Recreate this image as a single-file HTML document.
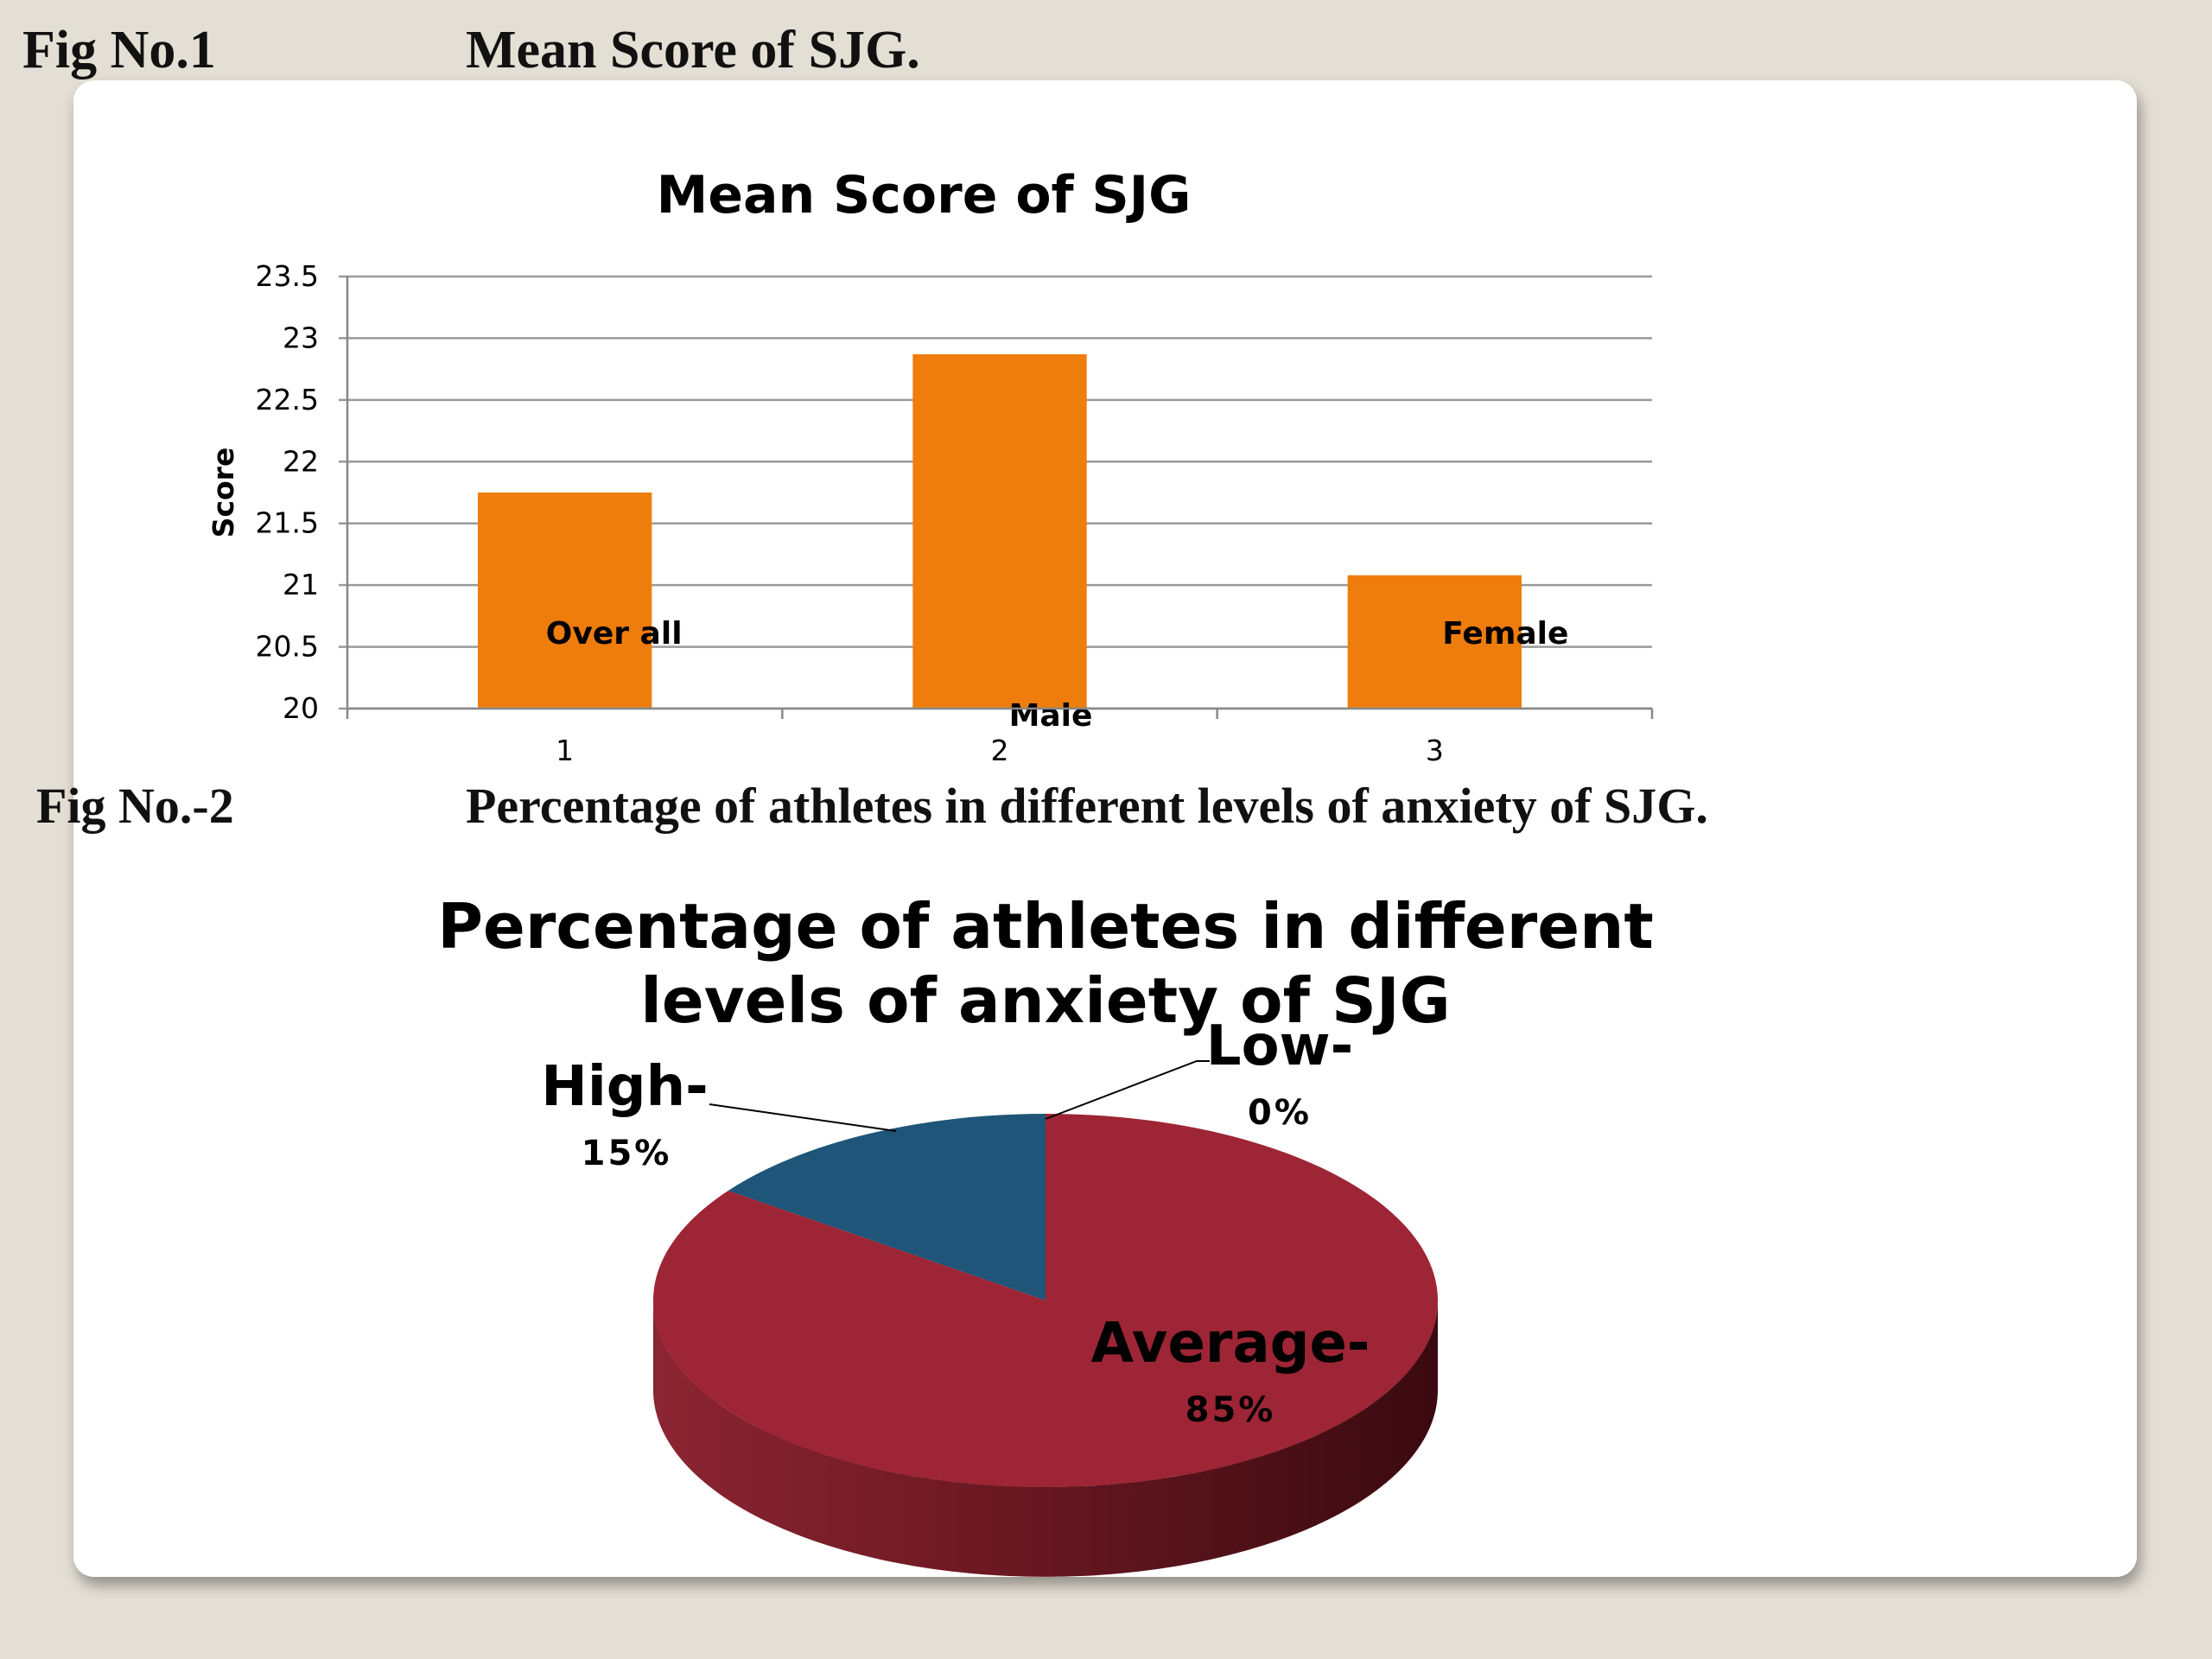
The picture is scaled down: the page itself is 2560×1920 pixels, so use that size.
<!DOCTYPE html>
<html><head><meta charset="utf-8"><style>
html,body{margin:0;padding:0;background:#e3dfd4;}
svg{display:block}
</style></head><body>
<svg id="root" width="2560" height="1920" viewBox="0 0 2560 1920" xmlns="http://www.w3.org/2000/svg">
<defs>
<filter id="sh" x="-5%" y="-5%" width="110%" height="110%"><feDropShadow dx="4" dy="10" stdDeviation="8" flood-color="#000" flood-opacity="0.35"/></filter>
<linearGradient id="side" x1="0" x2="1" y1="0" y2="0">
<stop offset="0" stop-color="#8c2532"/><stop offset="0.45" stop-color="#6a1822"/><stop offset="1" stop-color="#3a0a10"/>
</linearGradient>
</defs>
<rect x="0" y="0" width="2560" height="1920" fill="#e3dfd4"/>
<rect x="85" y="93" width="2388" height="1732" rx="24" fill="#ffffff" filter="url(#sh)"/>
<g font-family="'Liberation Serif',serif" font-weight="bold" fill="#111">
<text x="26" y="78" font-size="62">Fig No.1</text>
<text x="539" y="78" font-size="62">Mean Score of  SJG.</text>
<text x="42" y="952" font-size="58">Fig No.-2</text>
<text x="539" y="952" font-size="58">Percentage of athletes in different levels of anxiety of SJG.</text>
</g>
<g id="bar-chart"></g>
<g id="pie-chart"></g>
</svg>
<script>
const categories=["1","2","3"];
const barLabels=["Over all","Male","Female"];
const values=[21.75,22.87,21.08];
const yTicks=[20,20.5,21,21.5,22,22.5,23,23.5];
const pieLabels=["High-","Low-","Average-"];
const pieValues=[15,0,85];
const piePct=["15%","0%","85%"];

const NS="http://www.w3.org/2000/svg";
function mk(tag,attrs,parent,text){const e=document.createElementNS(NS,tag);for(const k in attrs)e.setAttribute(k,attrs[k]);if(text!==undefined)e.textContent=text;parent.appendChild(e);return e;}

// Bar chart
const bc=document.getElementById('bar-chart');
const X0=402,X1=1912,Y0=820,Y1=320,yMin=20,yMax=23.5;
const ys=v=>Y0-(v-yMin)/(yMax-yMin)*(Y0-Y1);
const bw=(X1-X0)/categories.length;
const xs=i=>X0+bw*(i+0.5);
let t=mk('text',{x:1069,y:246,'font-size':60,'font-weight':'bold','font-family':"'DejaVu Sans',sans-serif",'text-anchor':'middle',fill:'#000'},bc,'Mean Score of SJG');


yTicks.forEach(v=>{
 const l=mk('line',{x1:X0-10,x2:X1,y1:ys(v),y2:ys(v),stroke:'#9a9a9a','stroke-width':2.5},bc);
 
 
 const tx=mk('text',{x:369,y:ys(v)+11,'font-size':33,'font-family':"'DejaVu Sans',sans-serif",'text-anchor':'end',fill:'#000'},bc,String(v));
 
 
});
let ax=mk('line',{x1:X0,x2:X0,y1:Y1,y2:Y0,stroke:'#888','stroke-width':2.5},bc);


for(let i=0;i<=categories.length;i++){
 const tk=mk('line',{x1:X0+bw*i,x2:X0+bw*i,y1:Y0,y2:Y0+12,stroke:'#888','stroke-width':2.5},bc);
 
 
}
const yt=mk('text',{x:270,y:570,'font-size':33,'font-weight':'bold','font-family':"'DejaVu Sans',sans-serif",'text-anchor':'middle',transform:'rotate(-90 270 570)',fill:'#000'},bc,'Score');


const labelDx=[57,59,82],labelY=[745,840,745];
values.forEach((v,i)=>{
 const w=bw*0.4;
 const r=mk('rect',{x:xs(i)-w/2,y:ys(v),width:w,height:Y0-ys(v),fill:'#ee7d0d'},bc);
 
 
 const c=mk('text',{x:xs(i),y:880,'font-size':33,'font-family':"'DejaVu Sans',sans-serif",'text-anchor':'middle',fill:'#000'},bc,categories[i]);
 
 
 const dl=mk('text',{x:xs(i)+labelDx[i],y:labelY[i],'font-size':36,'font-weight':'bold','font-family':"'DejaVu Sans',sans-serif",'text-anchor':'middle',fill:'#000'},bc,barLabels[i]);
 
 
});
const l0=mk('line',{x1:X0,x2:X1,y1:Y0,y2:Y0,stroke:'#888','stroke-width':2.5},bc);



// Pie chart
const pc=document.getElementById('pie-chart');
const cx=1210,cy=1505,rx=454,ry=216,depth=104;
['Percentage of athletes in different','levels of anxiety of SJG'].forEach((s,i)=>{
 const tt=mk('text',{x:1210,y:1097+i*86,'font-size':72,'font-weight':'bold','font-family':"'DejaVu Sans',sans-serif",'text-anchor':'middle',fill:'#000'},pc,s);
 
 
});
const side=mk('path',{d:`M${cx-rx},${cy} A${rx},${ry} 0 0 0 ${cx+rx},${cy} L${cx+rx},${cy+depth} A${rx},${ry} 0 0 1 ${cx-rx},${cy+depth} Z`,fill:'url(#side)'},pc);


const colors=['#1e5578','#4f81bd','#9e2535'];
const total=pieValues.reduce((a,b)=>a+b,0);
const pt=a=>[cx+rx*Math.sin(a),cy-ry*Math.cos(a)];
// High slice goes counterclockwise from top; order: High (ccw), Low, Average (cw)
let start=-pieValues[0]/total*2*Math.PI;
pieValues.forEach((v,i)=>{
 if(v<=0)return;
 const a0=start,a1=start+v/total*2*Math.PI;start=a1;
 const p0=pt(a0),p1=pt(a1);const large=(a1-a0)>Math.PI?1:0;
 const p=mk('path',{d:`M${cx},${cy} L${p0[0]},${p0[1]} A${rx},${ry} 0 ${large} 1 ${p1[0]},${p1[1]} Z`,fill:colors[i]},pc);
 
 
});
const ld1=mk('polyline',{points:'821,1278 1037,1309',fill:'none',stroke:'#000','stroke-width':2},pc);


const ld2=mk('polyline',{points:'1210,1295 1385,1228 1400,1228',fill:'none',stroke:'#000','stroke-width':2},pc);


const lp=[[723,1257,725,1333],[1481,1210,1481,1286],[1424,1554,1424,1630]];
pieLabels.forEach((s,i)=>{
 const a=mk('text',{x:lp[i][0],y:lp[i][1]+22,'font-size':64,'font-weight':'bold','font-family':"'DejaVu Sans',sans-serif",'text-anchor':'middle',fill:'#000'},pc,s);
 
 
 const b=mk('text',{x:lp[i][2],y:lp[i][3]+15,'font-size':40,'font-weight':'bold','font-family':"'DejaVu Sans',sans-serif",'text-anchor':'middle',fill:'#000','letter-spacing':3},pc,piePct[i]);
 
 
});
</script>
</body></html>
